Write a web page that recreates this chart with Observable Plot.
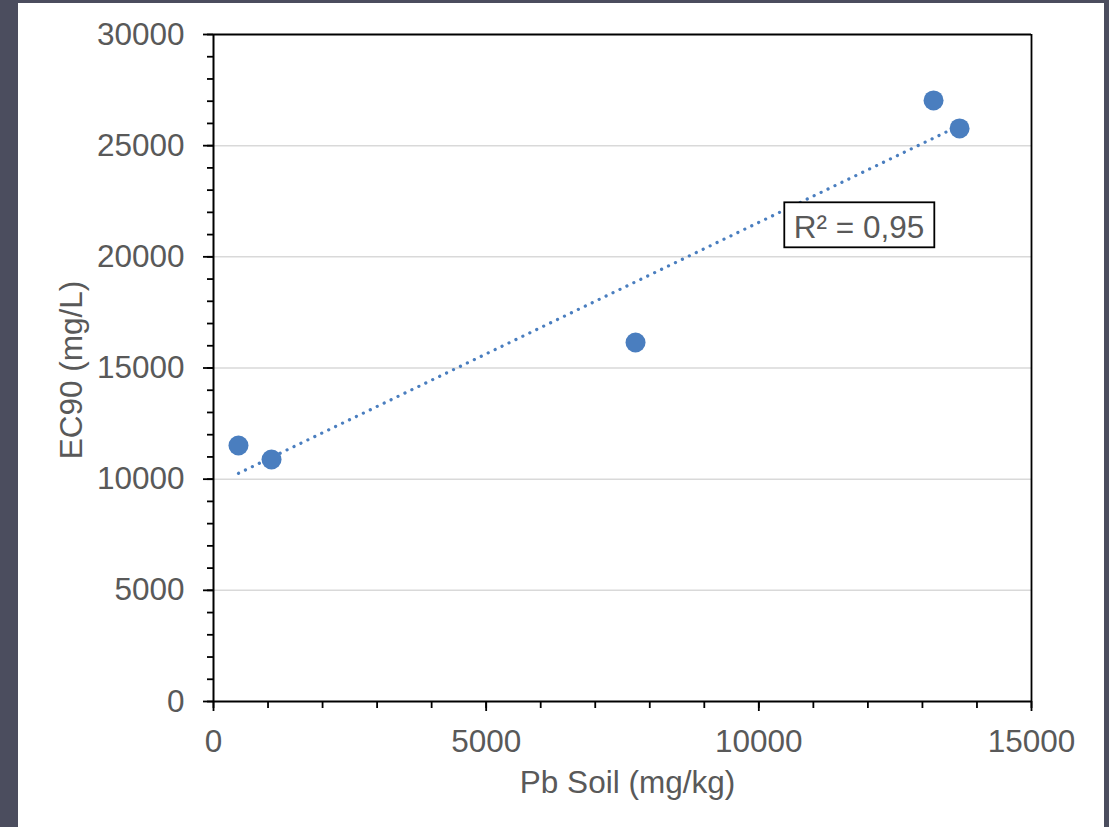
<!DOCTYPE html>
<html>
<head>
<meta charset="utf-8">
<script src="https://cdn.jsdelivr.net/npm/d3@7"></script>
<script src="https://cdn.jsdelivr.net/npm/@observablehq/plot@0.6"></script>
<style>
  html, body { margin: 0; padding: 0; background: #4b4d5e; width: 1109px; height: 827px; overflow: hidden; }
  #panel { position: absolute; left: 18px; top: 3px; width: 1086px; height: 824px; background: #ffffff; }
  #chart { position: absolute; left: 0; top: 0; }
</style>
</head>
<body>
<div id="panel"></div>
<div id="chart"></div>
<script>
// Data
const pbSoil = [458, 1064, 7739, 13204, 13681];      // Pb Soil (mg/kg)
const ec90   = [11516, 10886, 16149, 27035, 25776];  // EC90 (mg/L)
const xTicks = [0, 5000, 10000, 15000];
const yTicks = [0, 5000, 10000, 15000, 20000, 25000, 30000];
const xMinorTicks = d3.range(0, 15001, 1000);
const yMinorTicks = d3.range(0, 30001, 1000);
const gridValues = [5000, 10000, 15000, 20000, 25000];
const r2Label = ["R² = 0,95"];
const xTitle = "Pb Soil (mg/kg)";
const yTitle = "EC90 (mg/L)";

const data = pbSoil.map((x, i) => ({x, y: ec90[i]}));

const blue = "#4a7ebf";
const grey = "#595959";
const fs = 31.5;

// annotation box (data units)
const boxX1 = 10476, boxX2 = 13227, boxY1 = 20406, boxY2 = 22430;
const labelX = 11837, labelY = 21300;

const plot = Plot.plot({
  width: 1109,
  height: 827,
  marginLeft: 213,
  marginRight: 78,
  marginTop: 34,
  marginBottom: 126,
  style: {background: "transparent", fontFamily: "'Liberation Sans', Arial, sans-serif", fontSize: fs + "px"},
  x: {domain: [0, 15000], label: null},
  y: {domain: [0, 30000], label: null},
  marks: [
    Plot.ruleY(gridValues, {stroke: "#d9d9d9", strokeWidth: 1.5}),
    Plot.ruleY([30000], {stroke: "black", strokeWidth: 2}),
    Plot.ruleX([15000], {stroke: "black", strokeWidth: 1.8}),
    // y axis ticks
    Plot.axisY({ticks: yMinorTicks, tickSize: 6, tickFormat: () => "", label: null, color: "black", strokeWidth: 1.8}),
    Plot.axisY({ticks: yTicks, tickSize: 10, tickFormat: () => "", label: null, color: "black", strokeWidth: 1.8}),
    Plot.axisY({ticks: yTicks, tickSize: 0, tickPadding: 29, label: null, color: grey, fontSize: fs, tickFormat: d => String(d)}),
    // x axis ticks
    Plot.axisX({ticks: xMinorTicks, tickSize: 7, tickFormat: () => "", label: null, color: "black", strokeWidth: 1.8}),
    Plot.axisX({ticks: xTicks, tickSize: 10, tickFormat: () => "", label: null, color: "black", strokeWidth: 1.8}),
    Plot.axisX({ticks: xTicks, tickSize: 0, tickPadding: 28.6, label: null, color: grey, fontSize: fs, tickFormat: d => String(d)}),
    // axis lines
    Plot.ruleX([0], {stroke: "black", strokeWidth: 2}),
    Plot.ruleY([0], {stroke: "black", strokeWidth: 2}),
    // trendline
    Plot.linearRegressionY(data, {x: "x", y: "y", ci: 0, stroke: blue, strokeWidth: 3.2, strokeDasharray: "0.1 7.6", strokeLinecap: "round"}),
    // points
    Plot.dot(data, {x: "x", y: "y", r: 10, fill: blue, stroke: null}),
    // R² box
    Plot.rect([0], {x1: () => boxX1, x2: () => boxX2, y1: () => boxY1, y2: () => boxY2, fill: "white", stroke: "black", strokeWidth: 1.8}),
    Plot.text(r2Label, {x: () => labelX, y: () => labelY, text: d => d, fill: grey, fontSize: fs, textAnchor: "middle", lineAnchor: "middle"}),
    // axis titles
    Plot.text([yTitle], {frameAnchor: "left", text: d => d, rotate: -90, dx: -142, dy: 2, fill: grey, fontSize: fs, textAnchor: "middle", lineAnchor: "middle"}),
    Plot.text([xTitle], {frameAnchor: "bottom", text: d => d, dx: 5, dy: 81, fill: grey, fontSize: fs, textAnchor: "middle", lineAnchor: "middle"})
  ]
});
document.getElementById("chart").appendChild(plot);
</script>
</body>
</html>
